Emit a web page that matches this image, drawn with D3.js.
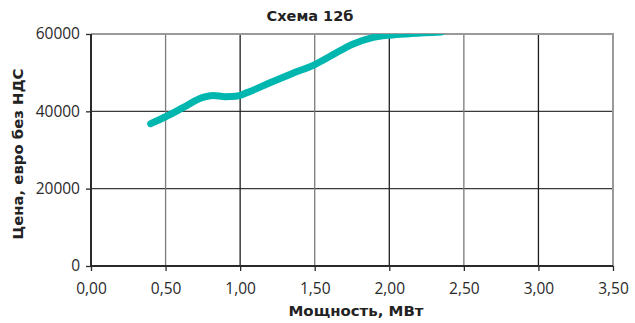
<!DOCTYPE html>
<html>
<head>
<meta charset="utf-8">
<script src="https://cdn.jsdelivr.net/npm/d3@7"></script>
<style>
  body { margin: 0; background: #fff; }
  svg { display: block; font-family: "Open Sans", sans-serif; }
  .ttl { font-family: "DejaVu Sans", sans-serif; font-weight: bold; fill: #222; }
</style>
</head>
<body>
<svg id="chart" width="635" height="323"></svg>
<script>
// Price curve for scheme 12б: power (MW) vs price (EUR, excl. VAT)
const powerMW  = [0.40, 0.50, 0.62, 0.75, 0.82, 0.90, 0.97, 1.05, 1.20, 1.35, 1.50, 1.62, 1.75, 1.88, 2.00, 2.15, 2.35];
const priceEUR = [36800, 38600, 41000, 43600, 44100, 43800, 43900, 44900, 47400, 49800, 52100, 54600, 57300, 59000, 59700, 60100, 60500];
const xTicks = [0, 0.5, 1, 1.5, 2, 2.5, 3, 3.5];
const yTicks = [0, 20000, 40000, 60000];

const title = "Схема 12б";
const xTitle = "Мощность, МВт";
const yTitle = "Цена, евро без НДС";

const svg = d3.select("#chart");
const m = { left: 91, right: 22, top: 34, bottom: 57 };
const W = 635, H = 323;

const x = d3.scaleLinear().domain([0, 3.5]).range([m.left, W - m.right]);
const y = d3.scaleLinear().domain([0, 60000]).range([H - m.bottom, m.top]);

const fmtX = d => d3.format(".2f")(d).replace(".", ",");

// gridlines
const grid = svg.append("g");
grid.selectAll("line.h").data(yTicks.filter(t => t > 0 && t < 60000)).join("line")
  .attr("x1", x(0)).attr("x2", x(3.5))
  .attr("y1", d => y(d)).attr("y2", d => y(d))
  .attr("stroke", "#3a3a3a").attr("stroke-width", 1.3);
grid.selectAll("line.v").data(xTicks.filter(t => t > 0 && t < 3.5)).join("line")
  .attr("y1", y(0)).attr("y2", y(60000))
  .attr("x1", d => x(d)).attr("x2", d => x(d))
  .attr("stroke", (d, i) => i % 2 === 0 ? "#7a7a7a" : "#1e1e1e")
  .attr("stroke-width", 1.3);

// top and right frame
svg.append("path")
  .attr("d", `M${x(0)},${y(60000)}H${x(3.5)}V${y(0)}`)
  .attr("fill", "none").attr("stroke", "#9a9a9a").attr("stroke-width", 2);

// curve, clipped to the plotting area
svg.append("clipPath").attr("id", "plot").append("rect")
  .attr("x", x(0)).attr("y", y(60000)).attr("width", x(3.5) - x(0)).attr("height", y(0) - y(60000));

const line = d3.line().x((d, i) => x(powerMW[i])).y(d => y(d)).curve(d3.curveMonotoneX);
svg.append("path")
  .datum(priceEUR)
  .attr("clip-path", "url(#plot)")
  .attr("d", line)
  .attr("fill", "none")
  .attr("stroke", "#00b7b0")
  .attr("stroke-width", 7)
  .attr("stroke-linecap", "round")
  .attr("stroke-linejoin", "round");

// axes
const yAxis = d3.axisLeft(y).tickValues(yTicks).tickSize(5).tickPadding(6).tickFormat(d3.format("d"));
const gy = svg.append("g").attr("transform", `translate(${x(0)},0)`).call(yAxis);
const xAxis = d3.axisBottom(x).tickValues(xTicks).tickSize(5).tickPadding(12).tickFormat(fmtX);
const gx = svg.append("g").attr("transform", `translate(0,${y(0)})`).call(xAxis);

[gx, gy].forEach(g => {
  g.select(".domain").attr("stroke", "#2a2a2a").attr("stroke-width", 2);
  g.selectAll(".tick line").attr("stroke", "#2a2a2a").attr("stroke-width", 1.3);
  g.selectAll(".tick text").attr("fill", "#2a2a2a").style("font-size", "15.5px")
    .style("font-family", "'Open Sans', sans-serif");
});
gy.select(".domain").attr("d", `M0,${y(0)}V${y(60000)}`);
gx.select(".domain").attr("d", `M${x(0)},0H${x(3.5)}`);

// titles
svg.append("text").attr("class", "ttl").attr("x", 310).attr("y", 21).attr("text-anchor", "middle")
  .style("font-size", "13.5px")
  .attr("textLength", 87).attr("lengthAdjust", "spacingAndGlyphs")
  .text(title);
svg.append("text").attr("class", "ttl").attr("x", 356).attr("y", 316).attr("text-anchor", "middle")
  .style("font-size", "14.5px")
  .attr("textLength", 135).attr("lengthAdjust", "spacingAndGlyphs")
  .text(xTitle);
svg.append("text").attr("class", "ttl").attr("transform", "translate(23,154) rotate(-90)").attr("text-anchor", "middle")
  .style("font-size", "14.5px")
  .attr("textLength", 171).attr("lengthAdjust", "spacingAndGlyphs")
  .text(yTitle);
</script>
</body>
</html>
